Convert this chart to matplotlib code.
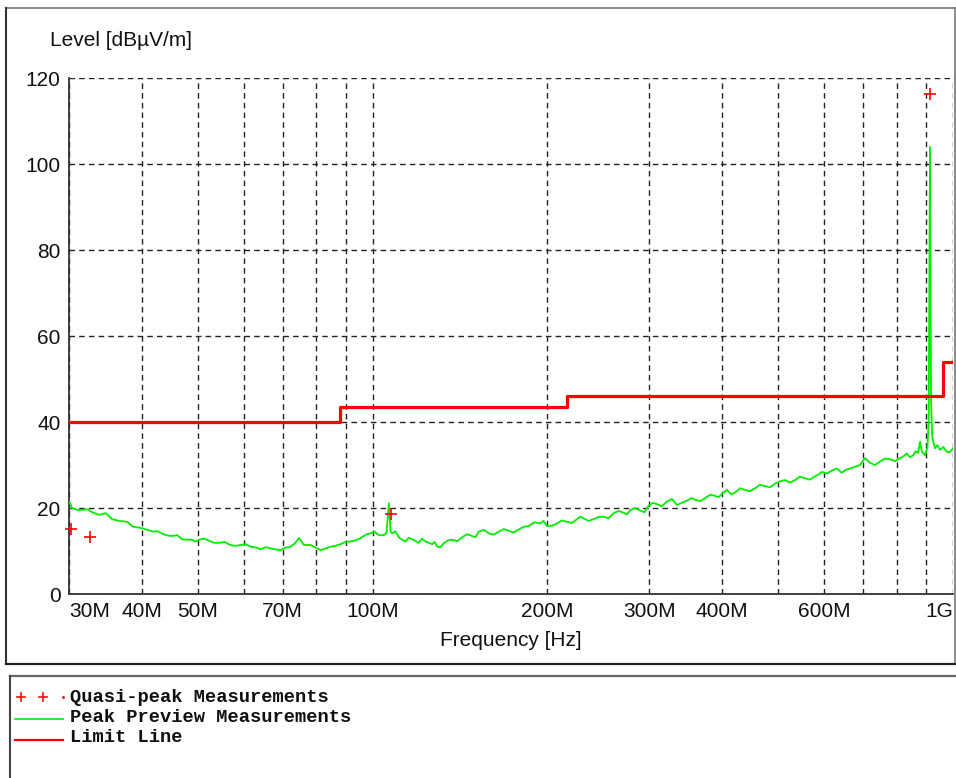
# EMC radiated emission plot - level vs frequency
# peak preview trace, quasi-peak points and the limit line

import numpy as np
from matplotlib import pyplot as plt
from matplotlib.lines import Line2D

# Data (frequency in MHz, level in dBuV/m)

peak_freq = [30.0, 30.4, 31.2, 32.3, 32.9, 33.8, 34.7, 35.6, 36.6, 37.8, 38.6, 40.1,
             41.8, 42.6, 43.5, 44.3, 45.2, 46.1, 47.0, 48.9, 49.5, 50.2, 51.2, 52.3,
             53.3, 54.4, 55.6, 56.9, 58.1, 59.3, 60.5, 61.7, 63.0, 64.2, 65.5, 66.7,
             68.0, 69.4, 70.8, 72.3, 73.5, 74.7, 76.2, 78.2, 79.8, 81.4, 83.0, 84.7,
             86.4, 88.1, 89.8, 91.6, 93.5, 95.4, 97.3, 99.2, 100.8, 102.5, 104.6, 105.7,
             106.7, 107.4, 108.1, 109.5, 111.0, 112.5, 114.0, 115.5, 117.0, 118.5, 120.1,
             121.7, 123.4, 125.0, 126.7, 128.0, 129.2, 131.0, 132.6, 135.0, 137.1, 140.0,
             142.7, 145.5, 148.4, 150.4, 152.4, 155.5, 158.6, 161.8, 165.0, 168.3, 171.7,
             175.0, 178.6, 182.0, 185.8, 190.0, 194.6, 197.0, 199.8, 204.0, 207.9, 212.0,
             216.3, 220.5, 225.1, 228.0, 231.0, 235.5, 240.4, 245.0, 250.0, 255.0, 260.2,
             265.5, 270.7, 274.3, 278.0, 283.5, 289.3, 294.0, 298.9, 304.0, 309.0, 315.0,
             321.5, 328.0, 334.5, 341.0, 348.1, 354.0, 359.7, 367.0, 374.2, 381.8, 389.4,
             394.6, 399.9, 407.9, 414.7, 421.5, 430.0, 438.5, 447.0, 456.2, 465.0, 474.6,
             484.0, 493.8, 503.7, 513.7, 524.0, 534.6, 545.0, 556.2, 567.0, 578.7, 586.5,
             594.3, 606.0, 618.3, 631.0, 643.3, 654.0, 664.8, 678.0, 691.7, 705.5, 719.6,
             734.0, 748.8, 764.0, 779.1, 795.0, 810.6, 821.5, 832.4, 843.5, 854.5, 862.5,
             870.6, 877.5, 884.4, 895.0, 903.3, 908.0, 912.8, 916.5, 921.0, 926.0, 931.2,
             940.0, 949.7, 962.0, 975.5, 988.0, 1000.0]
peak_level = [21.5, 19.9, 19.5, 19.7, 19.0, 18.4, 18.8, 17.4, 17.0, 16.8, 15.7, 15.3,
              14.5, 14.6, 14.0, 13.6, 13.5, 13.7, 12.7, 12.6, 12.2, 12.6, 12.9, 12.4,
              11.9, 11.9, 12.1, 11.4, 11.2, 11.4, 11.6, 11.0, 10.8, 10.4, 10.9, 10.6,
              10.4, 10.2, 10.8, 11.0, 11.8, 13.0, 11.4, 11.4, 10.8, 10.2, 10.6, 11.0,
              11.2, 11.6, 12.1, 12.2, 12.5, 13.0, 13.8, 14.1, 14.5, 13.7, 13.7, 14.2,
              21.1, 14.6, 14.1, 14.6, 13.2, 12.6, 12.2, 13.1, 12.7, 12.4, 11.9,
              12.9, 12.2, 11.9, 11.6, 12.1, 11.0, 10.9, 11.8, 12.5, 12.6, 12.3,
              13.2, 13.9, 13.5, 13.2, 14.5, 14.9, 14.1, 13.8, 14.5, 15.1, 14.7,
              14.3, 15.0, 15.6, 15.8, 16.7, 16.4, 17.0, 15.8, 15.9, 16.4, 17.1,
              16.8, 16.5, 17.4, 18.0, 17.6, 17.0, 17.4, 17.9, 18.0, 17.6, 18.8,
              19.3, 18.9, 18.5, 19.5, 20.0, 19.4, 19.0, 20.5, 21.2, 20.9, 20.4,
              21.5, 22.1, 20.7, 21.2, 21.7, 22.3, 21.9, 21.6, 22.3, 23.1, 22.8,
              22.5, 23.3, 24.2, 23.2, 23.6, 24.6, 24.2, 23.9, 24.6, 25.4, 25.1,
              24.8, 25.7, 26.2, 26.5, 25.9, 26.5, 27.3, 26.9, 26.6, 27.4, 27.8,
              28.4, 28.0, 28.7, 29.2, 28.2, 28.9, 29.2, 29.6, 30.0, 31.6, 30.5,
              30.0, 30.8, 31.5, 31.3, 30.9, 31.6, 32.0, 32.7, 31.8, 32.3, 33.2,
              32.8, 35.4, 33.0, 32.3, 34.0, 40.0, 104.0, 45.0, 36.5, 35.0, 33.9,
              34.6, 33.5, 34.2, 33.1, 33.0, 33.9]

qp_freq = [30.2, 32.6, 107.4, 912.8]
qp_level = [15.1, 13.3, 18.6, 116.3]

limit_freq = [30, 88, 216, 960, 1000]
limit_level = [40, 43.5, 46, 54, 54]

xtick_pos = [30, 40, 50, 60, 70, 80, 90, 100, 200, 300, 400, 500, 600, 700, 800, 900, 1000]
xtick_lab = ['30M', '40M', '50M', '', '70M', '', '', '100M', '200M', '300M', '400M', '',
             '600M', '', '', '', '1G']
ytick_pos = [0, 20, 40, 60, 80, 100, 120]

legend_labels = ['Quasi-peak Measurements', 'Peak Preview Measurements', 'Limit Line']

# Figure setup

W, H = 956, 778
plt.rcParams['font.family'] = ['Liberation Sans', 'DejaVu Sans']
fig = plt.figure(figsize=(W/100, H/100), dpi=100)
ax = fig.add_axes([69/W, 1-594/H, (953-69)/W, (594-78)/H])

green = '#00ee00'
red = '#ff0000'

ax.plot(peak_freq, peak_level, color=green, linewidth=1.3, zorder=3)
ax.step(limit_freq, limit_level, where='post', color=red, linewidth=2.3, zorder=4)
ax.plot(qp_freq, qp_level, linestyle='none', marker='+', markersize=9,
        markeredgewidth=1.2, color=red, zorder=5, clip_on=False)

ax.set_xscale('log')
ax.set_xlim(30, 1000)
ax.set_ylim(0, 120)
ax.set_xticks(xtick_pos)
ax.set_xticklabels(xtick_lab)
ax.xaxis.set_minor_locator(plt.NullLocator())
ax.set_yticks(ytick_pos)
ax.tick_params(length=0, labelsize=15, pad=6, colors='#111111')
xl = ax.get_xticklabels()
xl[0].set_horizontalalignment('left')
xl[-1].set_horizontalalignment('right')

ax.grid(True, color='#222222', linestyle=(0, (4, 3)), linewidth=1.0)
for s in ['top', 'right']:
    ax.spines[s].set_visible(False)
for s in ['left', 'bottom']:
    ax.spines[s].set_color('#333333')
    ax.spines[s].set_linewidth(1.3)
ax.set_axisbelow(True)

fig.text(50/W, 1-40/H, 'Level [dBµV/m]', fontsize=15, ha='left', va='center', color='#111111')
fig.text(511/W, 1-641/H, 'Frequency [Hz]', fontsize=15, ha='center', va='center', color='#111111')

# frame lines round the chart and the legend box
def fline(xs, ys, c='#333333', lw=1.5):
    fig.add_artist(Line2D([x/W for x in xs], [1-y/H for y in ys], color=c, linewidth=lw))

fline([6, 955], [8, 8], c='#777777', lw=1.2)
fline([6, 6], [8, 664], lw=1.5)
fline([955, 955], [8, 664], c='#777777', lw=1.2)
fline([6, 956], [664, 664], c='#222222', lw=1.6)
fline([10, 956], [676, 676], c='#666666', lw=1.6)
fline([10, 10], [676, 778], c='#444444', lw=1.5)

# legend drawn by hand
ys = [697, 719, 740]
fig.add_artist(Line2D([21/W, 43/W], [1-ys[0]/H]*2, linestyle='none', marker='+',
                      markersize=7, markeredgewidth=1.1, color=red))
fig.add_artist(Line2D([63/W], [1-ys[0]/H], linestyle='none', marker='.',
                      markersize=2, color=red))
fig.add_artist(Line2D([15/W, 63/W], [1-ys[1]/H]*2, color=green, linewidth=1.2))
fig.add_artist(Line2D([15/W, 63/W], [1-ys[2]/H]*2, color=red, linewidth=1.6))
for lab, y in zip(legend_labels, [697, 718, 738]):
    fig.text(70/W, 1-y/H, lab, fontsize=13.5, family='Liberation Mono', weight='bold',
             ha='left', va='center', color='#111111')

fig.savefig('out.png', dpi=100)
